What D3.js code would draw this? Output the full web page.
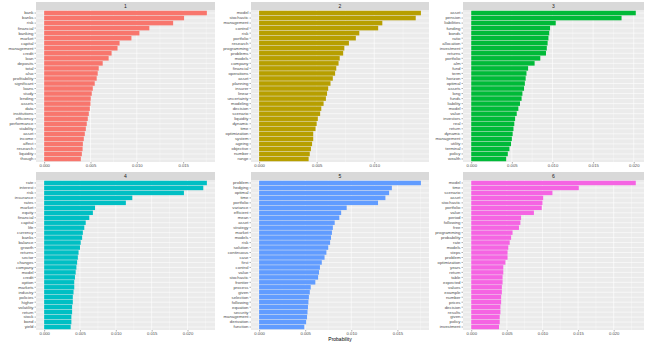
<!DOCTYPE html>
<html>
<head>
<meta charset="utf-8">
<script src="https://cdn.jsdelivr.net/npm/d3@7"></script>
<style>
  html, body { margin: 0; padding: 0; background: #fff; }
  svg { display: block; font-family: "Liberation Sans", Arial, sans-serif; }
</style>
</head>
<body>
<svg id="chart" width="650" height="342"></svg>
<script>
// ---------- data ----------
const topicLabels = ["1", "2", "3", "4", "5", "6"];
const colors = ["#F8766D", "#B79F00", "#00BA38", "#00BFC4", "#619CFF", "#F564E3"];

const terms1 = ["bank","banks","risk","financial","banking","market","capital","management","credit","loan",
  "deposits","total","also","profitability","significant","loans","study","lending","assets","data",
  "institutions","efficiency","performance","stability","asset","income","affect","research","liquidity","though"];
const beta1 = [0.01756,0.0151,0.01392,0.01135,0.01028,0.00942,0.00814,0.00792,0.00728,0.00696,
  0.00632,0.00589,0.00578,0.00567,0.00546,0.00525,0.00514,0.00503,0.00500,0.00493,
  0.00482,0.00471,0.0046,0.0045,0.00439,0.00428,0.00418,0.00415,0.00407,0.00396];

const terms2 = ["model","stochastic","management","control","risk","portfolio","research","programming","problems","models",
  "company","financial","operations","asset","planning","insurer","linear","uncertainty","modeling","decision",
  "scenario","liquidity","dynamic","time","optimization","system","ageing","objective","number","range"];
const beta2 = [0.01405,0.0136,0.0107,0.01034,0.0087,0.0084,0.0078,0.0074,0.0073,0.0070,
  0.0069,0.0067,0.0066,0.0064,0.0062,0.0060,0.0059,0.0058,0.0056,0.0054,
  0.0053,0.0051,0.0050,0.0049,0.0047,0.0047,0.0046,0.0045,0.0044,0.0043];

const terms3 = ["asset","pension","liabilities","funding","bonds","ratio","allocation","investment","returns","portfolio",
  "alm","fund","term","horizon","optimal","assets","long","funds","liability","model",
  "value","investors","real","return","dynamic","management","utility","terminal","policy","wealth"];
const beta3 = [0.02025,0.0185,0.0104,0.0097,0.0096,0.0095,0.0094,0.0093,0.0092,0.0085,
  0.0078,0.0070,0.0068,0.0067,0.0066,0.0065,0.0063,0.0062,0.0060,0.0058,
  0.0056,0.0054,0.0053,0.0052,0.0051,0.0050,0.0049,0.0047,0.0045,0.0043];

const terms4 = ["rate","interest","risk","insurance","rates","market","equity","financial","capital","life",
  "currency","banks","balance","growth","returns","sector","changes","company","model","credit",
  "option","markets","industry","policies","higher","volatility","return","stock","bond","yield"];
const beta4 = [0.0227,0.0222,0.0195,0.0123,0.0114,0.0071,0.0068,0.0063,0.0058,0.0056,
  0.0054,0.0053,0.0051,0.0050,0.0048,0.0047,0.0046,0.0045,0.0044,0.0043,
  0.0042,0.0042,0.0041,0.0040,0.0040,0.0039,0.0039,0.0038,0.0038,0.0037];

const terms5 = ["problem","hedging","optimal","time","portfolio","variance","efficient","mean","asset","strategy",
  "market","models","risk","solution","continuous","case","first","control","value","stochastic",
  "frontier","process","given","selection","following","equation","security","management","derivation","function"];
const beta5 = [0.01755,0.0144,0.0141,0.0137,0.0129,0.0095,0.0089,0.0087,0.0082,0.0080,
  0.0079,0.0078,0.0077,0.0075,0.0073,0.0071,0.0068,0.0066,0.0065,0.0064,
  0.0061,0.0056,0.0055,0.0054,0.00535,0.0053,0.00525,0.0052,0.0051,0.0049];

const terms6 = ["model","time","scenario","asset","stochastic","portfolio","value","period","following","free",
  "programming","probability","rate","models","steps","problem","optimization","years","return","table",
  "expected","values","example","number","prices","decision","results","given","policy","investment"];
const beta6 = [0.0231,0.0151,0.0114,0.0101,0.0100,0.0099,0.0088,0.0070,0.0069,0.0067,
  0.0058,0.0056,0.0054,0.0052,0.0051,0.0051,0.0048,0.0045,0.0045,0.0044,
  0.0044,0.0043,0.0043,0.0042,0.0042,0.0041,0.0041,0.0040,0.0040,0.0039];

const tickStep = 0.005;
const xTitle = "Probability";

// ---------- layout ----------
const termsAll = [terms1, terms2, terms3, terms4, terms5, terms6];
const betaAll = [beta1, beta2, beta3, beta4, beta5, beta6];
const cols = [[36, 215], [251, 429], [463, 644]];
const rows = [{ s0: 2, s1: 10, p1: 162 }, { s0: 172, s1: 180, p1: 330 }];

const svg = d3.select("#chart");

topicLabels.forEach((lab, k) => {
  const c = cols[k % 3], r = rows[Math.floor(k / 3)];
  const terms = termsAll[k], vals = betaAll[k];
  const maxV = d3.max(vals);
  const x = d3.scaleLinear().domain([-0.05 * maxV, 1.05 * maxV]).range([c[0], c[1]]);
  const y = d3.scaleBand().domain(terms).range([r.s1, r.p1]).paddingInner(0.1).paddingOuter(0.15);
  const g = svg.append("g");

  // strip
  g.append("rect").attr("x", c[0]).attr("y", r.s0).attr("width", c[1] - c[0]).attr("height", r.s1 - r.s0)
    .attr("fill", "#D9D9D9");
  g.append("text").attr("x", (c[0] + c[1]) / 2).attr("y", (r.s0 + r.s1) / 2).attr("dy", "0.35em")
    .attr("text-anchor", "middle").attr("font-size", 5).attr("fill", "#1A1A1A").text(lab);

  // panel bg
  g.append("rect").attr("x", c[0]).attr("y", r.s1).attr("width", c[1] - c[0]).attr("height", r.p1 - r.s1)
    .attr("fill", "#EBEBEB");

  const major = d3.range(0, 1.05 * maxV + 1e-9, tickStep);
  const minor = d3.range(tickStep / 2, 1.05 * maxV, tickStep);
  g.selectAll(".minor").data(minor).join("line")
    .attr("x1", d => x(d)).attr("x2", d => x(d)).attr("y1", r.s1).attr("y2", r.p1)
    .attr("stroke", "#fff").attr("stroke-width", 0.3);
  g.selectAll(".major").data(major).join("line")
    .attr("x1", d => x(d)).attr("x2", d => x(d)).attr("y1", r.s1).attr("y2", r.p1)
    .attr("stroke", "#fff").attr("stroke-width", 0.6);
  g.selectAll(".hgrid").data(terms).join("line")
    .attr("x1", c[0]).attr("x2", c[1])
    .attr("y1", d => y(d) + y.bandwidth() / 2).attr("y2", d => y(d) + y.bandwidth() / 2)
    .attr("stroke", "#fff").attr("stroke-width", 0.6);

  // bars
  g.selectAll(".bar").data(terms.map((t, i) => ({ t, v: vals[i] }))).join("rect")
    .attr("x", x(0)).attr("y", d => y(d.t)).attr("width", d => x(d.v) - x(0)).attr("height", y.bandwidth())
    .attr("fill", colors[k]);

  // axes
  const ya = g.append("g").attr("transform", `translate(${c[0]},0)`)
    .call(d3.axisLeft(y).tickSize(1.5).tickPadding(1));
  ya.select(".domain").remove();
  ya.selectAll("line").attr("stroke", "#333").attr("stroke-width", 0.4);
  ya.selectAll("text").attr("font-size", 4.3).attr("fill", "#4D4D4D").attr("font-family", "Liberation Sans, Arial, sans-serif");

  const xa = g.append("g").attr("transform", `translate(0,${r.p1})`)
    .call(d3.axisBottom(x).tickValues(major).tickFormat(d3.format(".3f")).tickSize(1.5).tickPadding(0.5));
  xa.select(".domain").remove();
  xa.selectAll("line").attr("stroke", "#333").attr("stroke-width", 0.4);
  xa.selectAll("text").attr("font-size", 4.2).attr("fill", "#4D4D4D").attr("font-family", "Liberation Sans, Arial, sans-serif");
});

svg.append("text").attr("x", 340).attr("y", 341).attr("text-anchor", "middle")
  .attr("font-size", 5).attr("fill", "#000").text(xTitle);
</script>
</body>
</html>
